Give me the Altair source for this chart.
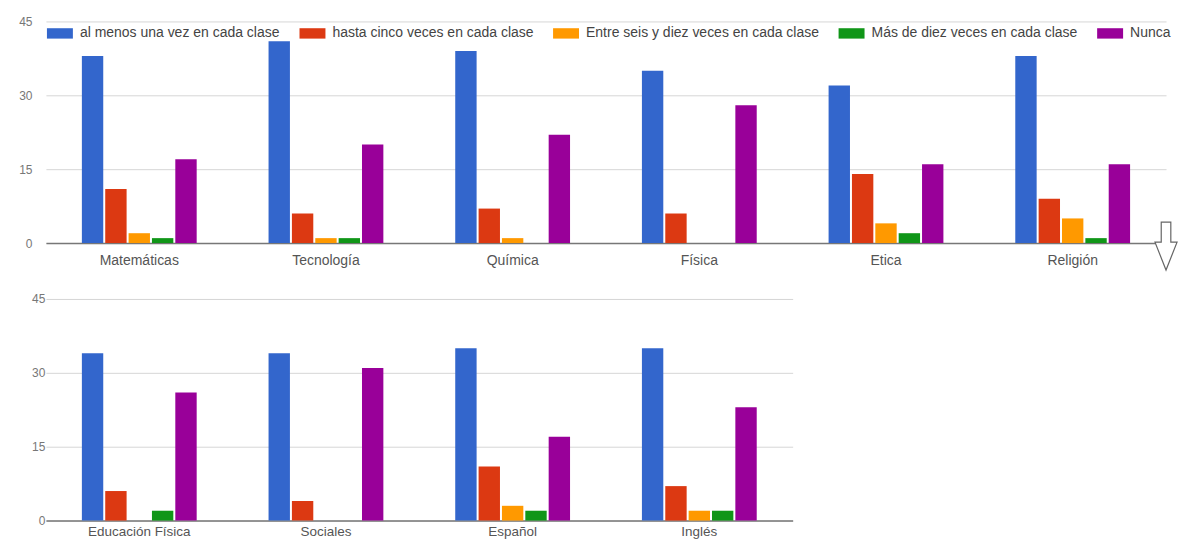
import altair as alt
import pandas as pd

subjects_top = ["Matemáticas", "Tecnología", "Química", "Física", "Etica", "Religión"]
subjects_bottom = ["Educación Física", "Sociales", "Español", "Inglés"]
series = [
    "al menos una vez en cada clase",
    "hasta cinco veces en cada clase",
    "Entre seis y diez veces en cada clase",
    "Más de diez veces en cada clase",
    "Nunca",
]
colors = ["#3366cc", "#dc3912", "#ff9900", "#109618", "#990099"]

# values per subject (top six, then bottom four)
al_menos = [38, 41, 39, 35, 32, 38, 34, 34, 35, 35]
hasta_cinco = [11, 6, 7, 6, 14, 9, 6, 4, 11, 7]
seis_diez = [2, 1, 1, 0, 4, 5, 0, 0, 3, 2]
mas_diez = [1, 1, 0, 0, 2, 1, 2, 0, 2, 2]
nunca = [17, 20, 22, 28, 16, 16, 26, 31, 17, 23]

subjects = subjects_top + subjects_bottom
cols = [al_menos, hasta_cinco, seis_diez, mas_diez, nunca]
rows = []
for i, subj in enumerate(subjects):
    for s, vals in zip(series, cols):
        rows.append({"subject": subj, "series": s, "value": vals[i],
                     "panel": "top" if i < len(subjects_top) else "bottom"})
df = pd.DataFrame(rows)

FONT = "Liberation Sans"
rect_path = "M-1,-0.4H1V0.4H-1Z"
arrow_path = "M-0.2,-1L0.2,-1L0.2,-0.16L0.46,-0.16L0,1L-0.46,-0.16L-0.2,-0.16Z"

legend = alt.Legend(
    orient="none", legendX=1, legendY=-1, direction="horizontal", columns=5,
    title=None, symbolType=rect_path, symbolSize=676, symbolStrokeWidth=0,
    symbolOpacity=1, labelFont=FONT, labelFontSize=14, labelColor="#444",
    labelOffset=7, columnPadding=19, padding=0, labelLimit=400,
)
color = alt.Color("series:N", sort=series,
                  scale=alt.Scale(domain=series, range=colors), legend=legend)


def panel(data, order, width, ylabpad, xlabpad, xfont):
    return alt.Chart(data).mark_bar().encode(
        x=alt.X("subject:N", sort=order,
                scale=alt.Scale(paddingInner=0.385, paddingOuter=0.1925),
                axis=alt.Axis(title=None, labelAngle=0, ticks=False, grid=False,
                              domainColor="#777", domainWidth=1.5,
                              labelFont=FONT, labelFontSize=xfont, labelColor="#555",
                              labelPadding=xlabpad, minExtent=22, maxExtent=22)),
        xOffset=alt.XOffset("series:N", sort=series,
                            scale=alt.Scale(paddingInner=0.085, paddingOuter=0)),
        y=alt.Y("value:Q", scale=alt.Scale(domain=[0, 45]),
                axis=alt.Axis(values=[0, 15, 30, 45], title=None, domain=False,
                              ticks=False, labelFont=FONT, labelFontSize=12,
                              labelColor="#777", labelPadding=ylabpad,
                              minExtent=28, maxExtent=28, gridColor="#d6d6d6")),
        color=color,
    ).properties(width=width, height=222)


top_bars = panel(df[df.panel == "top"], subjects_top, 1122, 14, 10, 14)
arrow = alt.Chart(pd.DataFrame({"a": [0]})).mark_point(
    shape=arrow_path, size=2304, filled=True, fill="white", stroke="#666",
    strokeWidth=1.2, opacity=1,
).encode(x=alt.value(1122), y=alt.value(225))
top = alt.layer(top_bars, arrow)
bottom = panel(df[df.panel == "bottom"], subjects_bottom, 748, 1, 4, 13.5)

chart = alt.vconcat(top, bottom, spacing=20).properties(
    padding={"left": 10, "top": 7, "right": 0, "bottom": 0}
).configure_view(stroke=None)

chart.save("out.html", embed_options={"renderer": "svg", "actions": False})
